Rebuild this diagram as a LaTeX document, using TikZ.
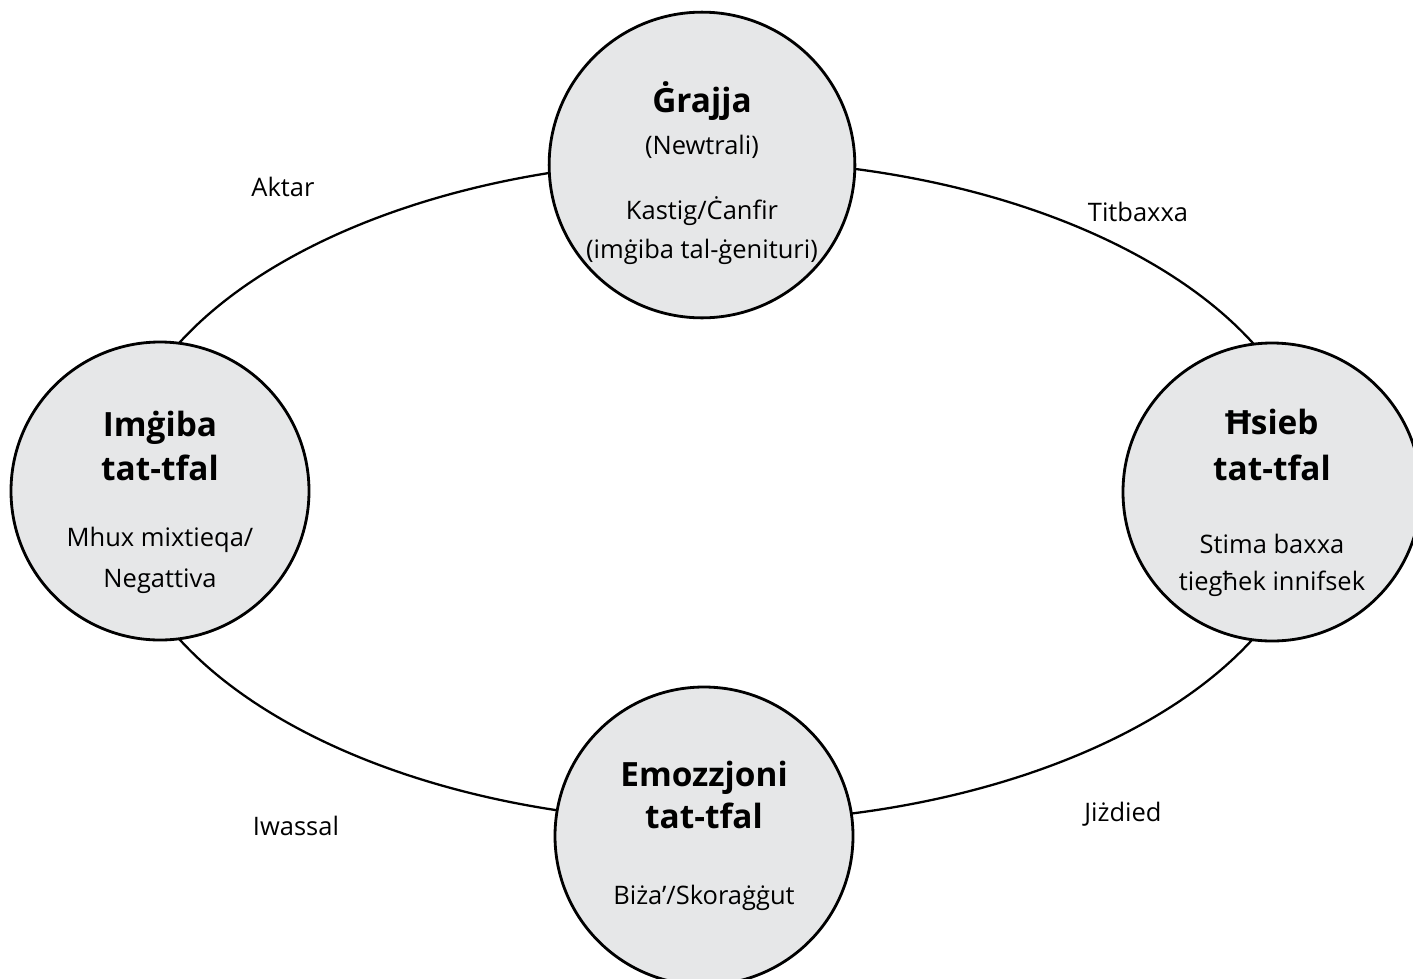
\documentclass[tikz,border=0pt]{standalone}
\usepackage{fontspec}
\setmainfont{Open Sans}
\usetikzlibrary{positioning}
\definecolor{stagegray}{HTML}{E6E7E8}
\tikzset{
  stage/.style={circle, draw=black, line width=1.6pt, fill=stagegray,
    minimum size=59.6mm, inner sep=0pt, align=center,
    font=\fontsize{14.5}{23}\selectfont},
  ring/.style={draw=black, line width=1.3pt},
  edgelbl/.style={font=\fontsize{14.5}{18}\selectfont, inner sep=0pt}
}
\newcommand{\stagehead}[1]{{\fontsize{19}{25}\selectfont\bfseries #1}}
\newcommand{\headstrut}{\rule{0pt}{27pt}}

\begin{document}
\begin{tikzpicture}[x=0.2mm, y=-0.2mm]
\useasboundingbox (0,0) rectangle (1413,978);

\coordinate (mid) at (716,491);
\draw[ring] (mid) ellipse [x radius=120mm, y radius=66.2mm];

\draw (702,165)  node (grajja) [stage]
  {\headstrut\stagehead{Ġrajja}\\[1pt] (Newtrali)\\[14pt] Kastig/Ċanfir\\[-1pt] (imġiba tal-ġenituri)};

\draw (160,491)  node (imgiba) [stage]
  {\headstrut\stagehead{Imġiba}\\[2pt] \stagehead{tat-tfal}\\[15pt] Mhux mixtieqa/\\ Negattiva};

\draw (1272,492) node (hsieb) [stage]
  {\headstrut\stagehead{Ħsieb}\\[3pt] \stagehead{tat-tfal}\\[19pt] Stima baxxa\\[-2pt] tiegħek innifsek};

\draw (704,836)  node (emozzjoni) [stage]
  {\stagehead{Emozzjoni}\\[1pt] \stagehead{tat-tfal}\\[20pt] Biża’/Skoraġġut};

\draw (283,187)  node (aktar)    [edgelbl] {Aktar};
\draw (1138,212) node (titbaxxa) [edgelbl] {Titbaxxa};
\draw (296,826)  node (iwassal)  [edgelbl] {Iwassal};
\draw (1123,814) node (jizdied)  [edgelbl] {Jiżdied};

\end{tikzpicture}
\end{document}
